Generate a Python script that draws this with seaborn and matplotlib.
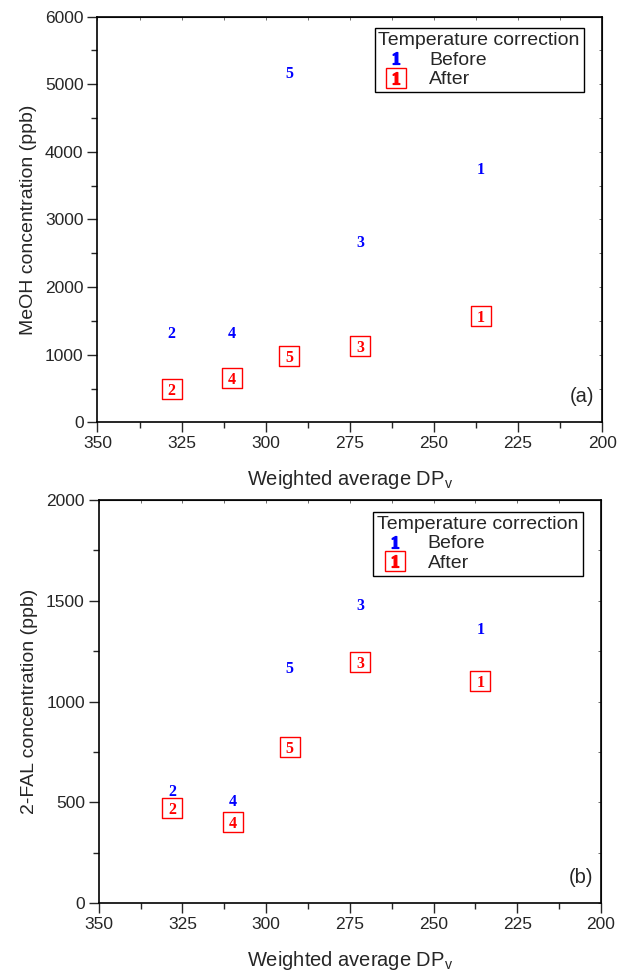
import matplotlib
matplotlib.use("Agg")
import matplotlib.pyplot as plt
import seaborn as sns
import pandas as pd
from matplotlib.lines import Line2D
from matplotlib.legend_handler import HandlerTuple
from matplotlib.ticker import MultipleLocator

# ── Data ──────────────────────────────────────────────────────────────────────
sample_ids = ["1", "2", "3", "4", "5"]
dp_v = [236, 328, 272, 310, 293]

meoh_before = [3760, 1340, 2680, 1340, 5180]
meoh_after = [1570, 490, 1125, 650, 975]

fal_before = [1365, 560, 1485, 510, 1170]
fal_after = [1100, 470, 1195, 400, 775]

panels = [
    ("MeOH concentration (ppb)", meoh_before, meoh_after, 6000, 1000, "(a)"),
    ("2-FAL concentration (ppb)", fal_before, fal_after, 2000, 500, "(b)"),
]

BLUE = "#0000FF"
RED = "#FF0000"

sns.set_style("ticks")
plt.rcParams["font.family"] = ["Liberation Sans", "DejaVu Sans"]
plt.rcParams["mathtext.fontset"] = "custom"
plt.rcParams["mathtext.rm"] = "Liberation Sans"
plt.rcParams["mathtext.bf"] = "Liberation Serif:bold"

fig = plt.figure(figsize=(6.17, 9.71), dpi=100)
boxes = [[0.158, 0.565, 0.818, 0.418], [0.160, 0.070, 0.814, 0.415]]

digit_font = dict(family="Liberation Serif", weight="bold")

for box, (ylabel, before, after, ymax, ystep, tag) in zip(boxes, panels):
    ax = fig.add_axes(box)
    df = pd.DataFrame({"id": sample_ids, "dp": dp_v, "before": before, "after": after})

    # red boxes for the corrected values
    sns.scatterplot(data=df, x="dp", y="after", marker="s", s=200,
                    facecolor="white", edgecolor=RED, linewidth=1.0, ax=ax,
                    zorder=3)
    for _, r in df.iterrows():
        ax.text(r["dp"], r["after"], r["id"], color=RED, fontsize=11.5,
                ha="center", va="center_baseline", zorder=4, **digit_font)
        ax.text(r["dp"], r["before"], r["id"], color=BLUE, fontsize=11.5,
                ha="center", va="center_baseline", zorder=4, **digit_font)

    ax.set_xlim(350, 200)
    ax.set_ylim(0, ymax)
    ax.xaxis.set_major_locator(MultipleLocator(25))
    ax.xaxis.set_minor_locator(MultipleLocator(12.5))
    ax.yaxis.set_major_locator(MultipleLocator(ystep))
    ax.yaxis.set_minor_locator(MultipleLocator(ystep / 2))
    ax.tick_params(which="major", direction="out", length=7, width=1,
                   labelsize=12.5, pad=3)
    ax.tick_params(which="minor", direction="out", length=4, width=1)
    for sp in ax.spines.values():
        sp.set_linewidth(1.2)
        sp.set_color("black")

    # faint inward ticks on top and right like the original
    top = ax.secondary_xaxis("top")
    top.xaxis.set_major_locator(MultipleLocator(25))
    top.xaxis.set_minor_locator(MultipleLocator(12.5))
    top.tick_params(which="both", direction="in", length=2, width=0.6,
                    labeltop=False, color="#555555")
    right = ax.secondary_yaxis("right")
    right.yaxis.set_major_locator(MultipleLocator(ystep))
    right.yaxis.set_minor_locator(MultipleLocator(ystep / 2))
    right.tick_params(which="both", direction="in", length=2, width=0.6,
                      labelright=False, color="#555555")

    ax.set_xlabel(r"Weighted average DP$_\mathregular{v}$", fontsize=14.5,
                  labelpad=12)
    ax.set_ylabel(ylabel, fontsize=14, labelpad=6)
    ax.text(0.985, 0.04, tag, transform=ax.transAxes, ha="right",
            va="bottom", fontsize=14.5)

    h_before = Line2D([], [], linestyle="none", marker=r"$\mathbf{1}$",
                      color=BLUE, markersize=8.5)
    h_box = Line2D([], [], linestyle="none", marker="s", markersize=14,
                   markerfacecolor="white", markeredgecolor=RED,
                   markeredgewidth=1.0)
    h_digit = Line2D([], [], linestyle="none", marker=r"$\mathbf{1}$",
                     color=RED, markersize=8.5)
    leg = ax.legend([h_before, (h_box, h_digit)], ["Before", "After"],
                    title="Temperature correction",
                    handler_map={tuple: HandlerTuple(ndivide=1)},
                    loc="upper right", bbox_to_anchor=(0.975, 0.985),
                    fontsize=14, title_fontsize=14, frameon=True,
                    fancybox=False, edgecolor="black", framealpha=1,
                    borderpad=0.2, labelspacing=0.1, handletextpad=0.8,
                    handlelength=1.8, borderaxespad=0.3)
    leg.get_frame().set_linewidth(1.0)
    leg._legend_box.align = "left"

fig.savefig("out.png", dpi=100)
